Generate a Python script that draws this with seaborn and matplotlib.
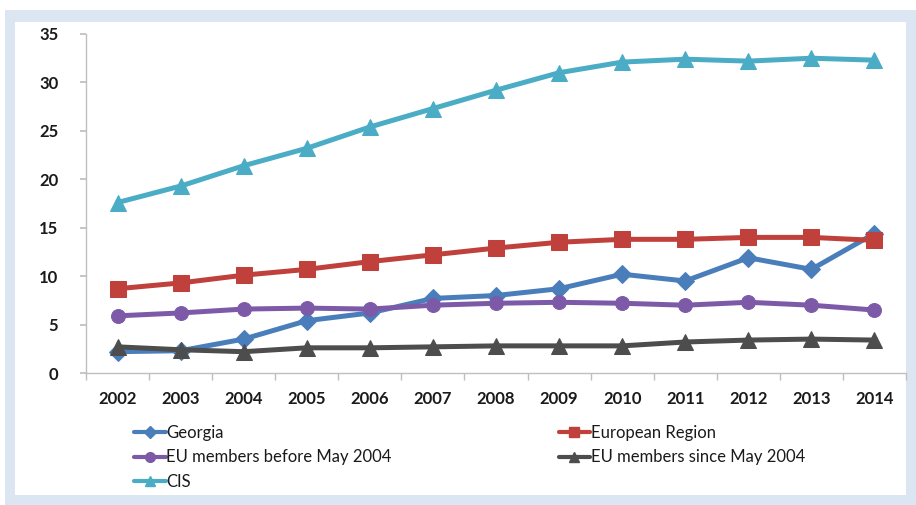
import matplotlib
matplotlib.use("Agg")
import matplotlib.pyplot as plt
from matplotlib.patches import Rectangle
from matplotlib.lines import Line2D
import seaborn as sns
import pandas as pd

years = [2002, 2003, 2004, 2005, 2006, 2007, 2008, 2009, 2010, 2011, 2012, 2013, 2014]
georgia = [2.2, 2.3, 3.5, 5.4, 6.2, 7.7, 8.0, 8.7, 10.2, 9.5, 11.9, 10.7, 14.4]
european_region = [8.7, 9.3, 10.1, 10.7, 11.5, 12.2, 12.9, 13.5, 13.8, 13.8, 14.0, 14.0, 13.7]
eu_before_2004 = [5.9, 6.2, 6.6, 6.7, 6.6, 7.0, 7.2, 7.3, 7.2, 7.0, 7.3, 7.0, 6.5]
eu_since_2004 = [2.7, 2.4, 2.2, 2.6, 2.6, 2.7, 2.8, 2.8, 2.8, 3.2, 3.4, 3.5, 3.4]
cis = [17.6, 19.3, 21.4, 23.2, 25.4, 27.3, 29.2, 31.0, 32.1, 32.4, 32.2, 32.5, 32.3]

series_names = ["Georgia", "European Region", "EU members before May 2004",
                "EU members since May 2004", "CIS"]
series_values = [georgia, european_region, eu_before_2004, eu_since_2004, cis]
colors = {"Georgia": "#4a7ebb", "European Region": "#c0403c",
          "EU members before May 2004": "#7d5aa8",
          "EU members since May 2004": "#4d4d4d", "CIS": "#4bacc6"}
markers = {"Georgia": "D", "European Region": "s", "EU members before May 2004": "o",
           "EU members since May 2004": "^", "CIS": "^"}
msizes = {"Georgia": 9, "European Region": 11, "EU members before May 2004": 10,
          "EU members since May 2004": 11, "CIS": 11}

rows = []
for name, vals in zip(series_names, series_values):
    for i, v in enumerate(vals):
        rows.append({"pos": i, "value": v, "series": name})
df = pd.DataFrame(rows)

sns.set_theme(style="white")
plt.rcParams["font.family"] = ["Lato", "DejaVu Sans"]

fig = plt.figure(figsize=(9.16, 5.05), dpi=100)
W, H = 916, 505
# light blue frame around the chart
fig.patches.append(Rectangle((5 / W, 0), 911 / W, 495 / H, transform=fig.transFigure,
                             facecolor="#dce6f2", edgecolor="none", zorder=-3))
fig.patches.append(Rectangle((15 / W, 10 / H), 891 / W, 473 / H, transform=fig.transFigure,
                             facecolor="white", edgecolor="none", zorder=-2))

ax = fig.add_axes([86 / W, (505 - 373) / H, (906 - 86) / W, (373 - 34) / H])
ax.set_facecolor("none")
ax.set_zorder(2)

for name in series_names:
    sub = df[df["series"] == name]
    sns.lineplot(data=sub, x="pos", y="value", ax=ax, color=colors[name],
                 marker=markers[name], markersize=msizes[name], linewidth=3.6,
                 markeredgecolor=colors[name], legend=False, zorder=3)

ax.set_xlim(-0.5, len(years) - 0.5)
ax.set_ylim(0, 35)
ax.set_xticks(range(len(years)))
ax.set_xticklabels([str(y) for y in years], fontsize=12, fontweight="bold", color="#1a1a1a")
ax.set_yticks(range(0, 36, 5))
ax.set_yticklabels([str(t) for t in range(0, 36, 5)], fontsize=12, fontweight="bold", color="#1a1a1a")
ax.set_xticks([i - 0.5 for i in range(len(years) + 1)], minor=True)
ax.tick_params(axis="x", which="major", length=0, pad=13)
ax.tick_params(axis="x", which="minor", length=5, color="#bfbfbf", direction="out", bottom=True)
ax.tick_params(axis="y", which="major", length=4, color="#bfbfbf", direction="out", left=True, pad=16)
ax.set_xlabel("")
ax.set_ylabel("")
for side in ["top", "right"]:
    ax.spines[side].set_visible(False)
for side in ["left", "bottom"]:
    ax.spines[side].set_color("#bfbfbf")
    ax.spines[side].set_linewidth(1)

order = ["Georgia", "EU members before May 2004", "CIS",
         "European Region", "EU members since May 2004"]
handles = [Line2D([], [], color=colors[n], marker=markers[n], markersize=msizes[n] * 0.7,
                  linewidth=3, markeredgecolor=colors[n]) for n in order]
fig.legend(handles, order, loc="upper left", bbox_to_anchor=(134 / W, 1 - 425 / H),
           ncol=2, frameon=False, fontsize=12, handlelength=1.9, handletextpad=0.05,
           columnspacing=10.0, labelspacing=0.5, borderaxespad=0, borderpad=0,
           labelcolor="#1a1a1a")

fig.savefig("out.png", dpi=100, facecolor="white")
